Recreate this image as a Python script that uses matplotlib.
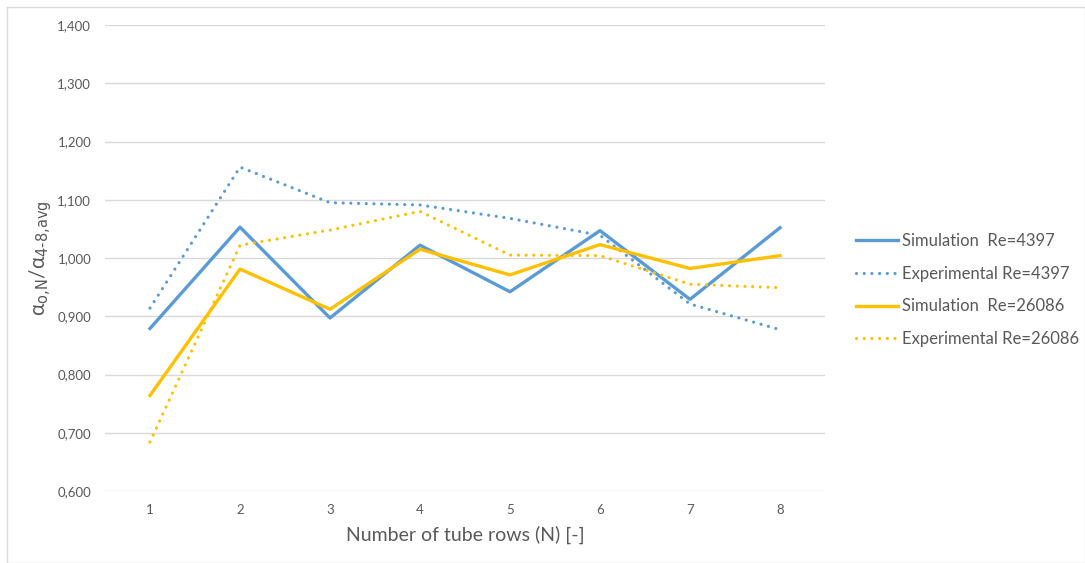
import matplotlib.pyplot as plt
from matplotlib.patches import Rectangle
from matplotlib.ticker import FuncFormatter

plt.rcParams['font.family'] = ['Lato', 'DejaVu Sans']

rows = [1, 2, 3, 4, 5, 6, 7, 8]
sim_4397 = [0.879, 1.053, 0.897, 1.022, 0.942, 1.047, 0.929, 1.052]
exp_4397 = [0.914, 1.156, 1.095, 1.091, 1.068, 1.039, 0.921, 0.877]
sim_26086 = [0.764, 0.981, 0.912, 1.015, 0.971, 1.023, 0.982, 1.004]
exp_26086 = [0.684, 1.022, 1.048, 1.080, 1.005, 1.004, 0.955, 0.949]

blue = '#5B9BD5'
yellow = '#FFC000'
grey = '#595959'
dots = (0, (0.01, 2.4))

fig = plt.figure(figsize=(10.85, 5.63), dpi=100)
ax = fig.add_axes([105 / 1085, 1 - 491 / 563, 720 / 1085, 466 / 563])

ax.plot(rows, sim_4397, color=blue, lw=2.4, label='Simulation  Re=4397')
ax.plot(rows, exp_4397, color=blue, lw=2.3, ls=dots,
        dash_capstyle='round', label='Experimental Re=4397')
ax.plot(rows, sim_26086, color=yellow, lw=2.4, label='Simulation  Re=26086')
ax.plot(rows, exp_26086, color=yellow, lw=2.3, ls=dots,
        dash_capstyle='round', label='Experimental Re=26086')

ax.set_xlim(0.5, 8.5)
ax.set_ylim(0.6, 1.4)
ax.set_xticks(rows)
ax.set_yticks([0.6, 0.7, 0.8, 0.9, 1.0, 1.1, 1.2, 1.3, 1.4])
ax.yaxis.set_major_formatter(FuncFormatter(lambda v, p: f'{v:.3f}'.replace('.', ',')))
ax.grid(axis='y', color='#D9D9D9', lw=1)
ax.set_axisbelow(True)
for s in ax.spines.values():
    s.set_visible(False)
ax.tick_params(length=0, colors=grey, labelsize=9.5)
ax.tick_params(axis='x', pad=9)
ax.tick_params(axis='y', pad=10)

ax.set_xlabel('Number of tube rows (N) [-]', fontsize=14, color=grey, labelpad=7)
ax.set_ylabel(r'α$_{\text{o,N}}$/α$_{\text{4-8,avg}}$', fontsize=15,
              color=grey, labelpad=2)

ax.legend(loc='center left', bbox_to_anchor=(841 / 1085, 1 - 290 / 563),
          bbox_transform=fig.transFigure, frameon=False, fontsize=12,
          labelcolor=grey, handlelength=2.5, handletextpad=0.25,
          labelspacing=1.0)

fig.patches.append(Rectangle((7 / 1085, 0), 1 - 7 / 1085, 1 - 7 / 563,
                             transform=fig.transFigure, fill=False,
                             edgecolor='#D9D9D9', lw=1))

fig.savefig('out.png', dpi=100)
